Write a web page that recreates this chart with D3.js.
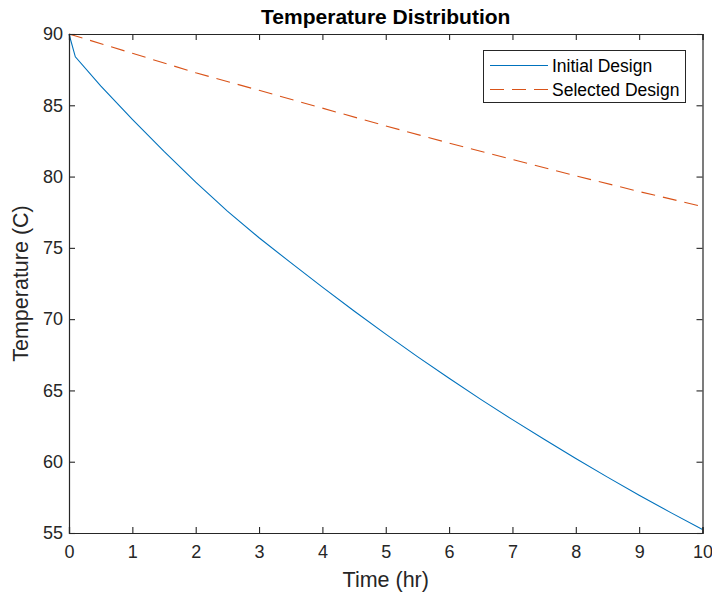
<!DOCTYPE html>
<html>
<head>
<meta charset="utf-8">
<script src="https://cdn.jsdelivr.net/npm/d3@7"></script>
<style>
  body { margin: 0; background: #fff; }
  svg { display: block; font-family: "Liberation Sans", Arial, Helvetica, sans-serif; }
</style>
</head>
<body>
<svg id="chart" width="712" height="594"></svg>
<script>
// ---- Data ----
const initialTime = [0, 0.1, 0.5, 1, 1.5, 2, 2.5, 3, 3.5, 4, 4.5, 5, 5.5, 6, 6.5, 7, 7.5, 8, 8.5, 9, 9.5, 10];
const initialTemp = [90, 88.4, 86.36, 84.01, 81.76, 79.61, 77.58, 75.71, 73.96, 72.25, 70.57, 68.95, 67.37, 65.85, 64.37, 62.95, 61.57, 60.22, 58.92, 57.65, 56.43, 55.25];
const selectedTime = [0, 1, 2, 3, 4, 5, 6, 7, 8, 9, 10];
const selectedTemp = [90, 88.65, 87.28, 86.05, 84.8, 83.55, 82.35, 81.2, 80.05, 78.95, 77.9];
const xTicks = [0, 1, 2, 3, 4, 5, 6, 7, 8, 9, 10];
const yTicks = [55, 60, 65, 70, 75, 80, 85, 90];
const seriesNames = ["Initial Design", "Selected Design"];
const seriesColors = ["#0072BD", "#D95319"];

// ---- Layout ----
const svg = d3.select("#chart");
const pLeft = 69, pTop = 34, pRight = 702.5, pBottom = 533;
const x = d3.scaleLinear().domain([0, 10]).range([pLeft, pRight]);
const y = d3.scaleLinear().domain([55, 90]).range([pBottom, pTop]);
const axisColor = "#262626";

// Lines
const line = d3.line().x(d => x(d[0])).y(d => y(d[1]));
const g = svg.append("g");
g.append("path")
  .datum(initialTime.map((t, i) => [t, initialTemp[i]]))
  .attr("d", line).attr("fill", "none")
  .attr("stroke", seriesColors[0]).attr("stroke-width", 1.1);
g.append("path")
  .datum(selectedTime.map((t, i) => [t, selectedTemp[i]]))
  .attr("d", line).attr("fill", "none")
  .attr("stroke", seriesColors[1]).attr("stroke-width", 1.1)
  .attr("stroke-dasharray", "14,8");

// Axes
const tickLen = 6;
const xb = svg.append("g").attr("transform", `translate(0,${pBottom})`)
  .call(d3.axisBottom(x).tickValues(xTicks).tickSize(-tickLen).tickPadding(12).tickFormat(d3.format("d")));
const yl = svg.append("g").attr("transform", `translate(${pLeft},0)`)
  .call(d3.axisLeft(y).tickValues(yTicks).tickSize(-tickLen).tickPadding(6).tickFormat(d3.format("d")));
const xt = svg.append("g").attr("transform", `translate(0,${pTop})`)
  .call(d3.axisTop(x).tickValues(xTicks).tickSize(-tickLen).tickFormat(""));
const yr = svg.append("g").attr("transform", `translate(${pRight},0)`)
  .call(d3.axisRight(y).tickValues(yTicks).tickSize(-tickLen).tickFormat(""));
[xb, yl, xt, yr].forEach(a => {
  a.select(".domain").attr("stroke", axisColor).attr("stroke-width", 1.2);
  a.selectAll(".tick line").attr("stroke", axisColor).attr("stroke-width", 1.1);
  a.selectAll(".tick text").attr("fill", axisColor).style("font-size", "18px")
    .style("font-family", '"Liberation Sans", Arial, sans-serif');
});

// Title & labels
svg.append("text").attr("x", (pLeft + pRight) / 2).attr("y", 24)
  .attr("text-anchor", "middle").style("font-size", "21px").style("font-weight", "bold")
  .attr("fill", "#000").text("Temperature Distribution");
svg.append("text").attr("x", (pLeft + pRight) / 2).attr("y", 587)
  .attr("text-anchor", "middle").style("font-size", "21.5px").attr("fill", axisColor)
  .text("Time (hr)");
svg.append("text").attr("transform", `translate(28,${(pTop + pBottom) / 2}) rotate(-90)`)
  .attr("text-anchor", "middle").style("font-size", "21.5px").attr("fill", axisColor)
  .text("Temperature (C)");

// Legend
const lg = svg.append("g");
lg.append("rect").attr("x", 483.5).attr("y", 50.5).attr("width", 202).attr("height", 52)
  .attr("fill", "#fff").attr("stroke", axisColor).attr("stroke-width", 1);
seriesNames.forEach((name, i) => {
  const yy = 65.5 + i * 24;
  lg.append("line").attr("x1", 490).attr("x2", 548).attr("y1", yy).attr("y2", yy)
    .attr("stroke", seriesColors[i]).attr("stroke-width", 1.1)
    .attr("stroke-dasharray", i === 1 ? "14,8" : null);
  lg.append("text").attr("x", 552).attr("y", yy + 6).style("font-size", "17.5px")
    .attr("fill", "#000").text(name);
});
</script>
</body>
</html>
